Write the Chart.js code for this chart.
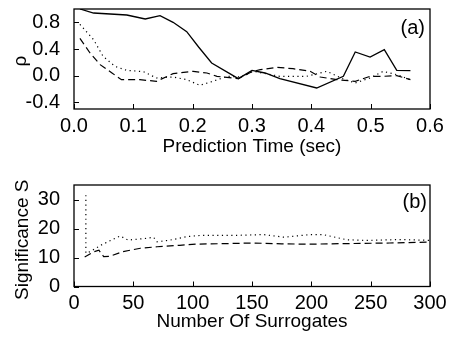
<!DOCTYPE html>
<html>
<head>
<meta charset="utf-8">
<script src="https://cdn.jsdelivr.net/npm/chart.js@4/dist/chart.umd.min.js"></script>
<style>
html,body{margin:0;padding:0;background:#fff;}
#wrapA{position:absolute;left:0;top:0;width:449px;height:165px;}
#wrapB{position:absolute;left:0;top:170px;width:449px;height:167px;}
</style>
</head>
<body>
<div id="wrapA"><canvas id="chartA"></canvas></div>
<div id="wrapB"><canvas id="chartB"></canvas></div>
<script>
// ---- Panel (a): correlation rho vs prediction time ----
const timeSolid = [0.010, 0.033, 0.089, 0.120, 0.145, 0.167, 0.190, 0.210, 0.232, 0.277, 0.300, 0.322, 0.347, 0.409, 0.454, 0.474, 0.499, 0.523, 0.544, 0.567];
const rhoSolid  = [1.00, 0.94, 0.91, 0.85, 0.90, 0.80, 0.66, 0.43, 0.19, -0.045, 0.08, 0.04, -0.045, -0.185, -0.01, 0.355, 0.28, 0.39, 0.08, 0.075];

const timeDotted = [0.010, 0.033, 0.049, 0.069, 0.089, 0.117, 0.139, 0.167, 0.190, 0.212, 0.234, 0.258, 0.280, 0.302, 0.347, 0.392, 0.426, 0.454, 0.474, 0.499, 0.521, 0.544, 0.567];
const rhoDotted  = [0.77, 0.54, 0.29, 0.14, 0.08, 0.06, -0.035, -0.02, -0.06, -0.145, -0.085, -0.01, -0.02, 0.065, -0.01, -0.01, 0.065, -0.05, -0.11, -0.035, 0.065, 0.015, -0.06];

const timeDashed = [0.010, 0.027, 0.044, 0.064, 0.080, 0.111, 0.139, 0.167, 0.201, 0.224, 0.241, 0.277, 0.300, 0.314, 0.342, 0.369, 0.398, 0.415, 0.443, 0.474, 0.499, 0.521, 0.544, 0.567];
const rhoDashed  = [0.56, 0.34, 0.165, 0.04, -0.06, -0.06, -0.085, 0.03, 0.065, 0.04, -0.01, -0.045, 0.06, 0.09, 0.125, 0.105, 0.065, -0.02, -0.06, -0.085, -0.01, -0.01, 0.0, -0.06];

const rhoTicks  = [-0.4, 0.0, 0.4, 0.8];
const timeTicks = [0.0, 0.1, 0.2, 0.3, 0.4, 0.5, 0.6];

// ---- Panel (b): significance vs number of surrogates ----
const nDotted = [10, 10, 13.5, 23, 33, 39, 45.5, 61, 67, 70, 81, 95, 106, 134, 160, 177, 199, 210, 230, 247, 275, 300];
const sDotted = [31.5, 11.5, 12, 14.3, 16.3, 17.4, 16, 16.6, 17, 15.4, 16, 17.2, 17.6, 17.6, 17.9, 17, 17.9, 17.9, 16.1, 15.9, 16.2, 15.9];

const nDashed = [9, 17, 21, 25, 30, 41, 56, 70, 89, 103, 129, 151, 175, 200, 230, 266, 300];
const sDashed = [10.2, 12, 12.5, 10.3, 10.4, 12, 13.2, 13.7, 14.2, 14.6, 14.8, 15.0, 14.7, 14.6, 14.8, 15.0, 15.3];

const sTicks = [0, 10, 20, 30];
const nTicks = [0, 50, 100, 150, 200, 250, 300];

const FONT = "'Liberation Sans', Arial, sans-serif";

function pts(xs, ys){ return xs.map((x,i)=>({x:x, y:ys[i]})); }

const framePlugin = {
  id: 'frame',
  afterDraw(chart, args, opts){
    const ctx = chart.ctx, a = chart.chartArea;
    const xs = chart.scales.x, ys = chart.scales.y;
    ctx.save();
    ctx.strokeStyle = '#000';
    ctx.lineWidth = 1.3;
    ctx.strokeRect(a.left, a.top, a.right - a.left, a.bottom - a.top);
    ctx.lineWidth = 1;
    ctx.beginPath();
    xs.ticks.forEach(t => {
      const px = Math.round(xs.getPixelForValue(t.value)) + 0.5;
      ctx.moveTo(px, a.bottom); ctx.lineTo(px, a.bottom - 5);
    });
    ys.ticks.forEach(t => {
      const py = Math.round(ys.getPixelForValue(t.value)) + 0.5;
      ctx.moveTo(a.left, py); ctx.lineTo(a.left + 5, py);
    });
    ctx.stroke();
    ctx.fillStyle = '#000';
    ctx.font = '20px ' + FONT;
    ctx.textAlign = 'right';
    ctx.textBaseline = 'middle';
    ctx.fillText(opts.label, a.right - opts.dx, a.top + opts.dy);
    // rotated y-axis title
    ctx.font = '19px ' + FONT;
    ctx.textAlign = 'center';
    ctx.translate(opts.yTitleX, (a.top + a.bottom) / 2 + opts.yTitleDy);
    ctx.rotate(-Math.PI / 2);
    ctx.fillText(opts.yTitle, 0, 0);
    ctx.restore();
  }
};

function makeChart(id, cfg){
  return new Chart(document.getElementById(id), {
    type: 'line',
    data: { datasets: cfg.datasets },
    options: {
      responsive: true,
      maintainAspectRatio: false,
      animation: false,
      events: [],
      layout: { padding: { left: 0, right: 19, top: cfg.padTop, bottom: 0 } },
      plugins: {
        legend: { display: false },
        tooltip: { enabled: false },
        frame: { label: cfg.label, dx: cfg.labelDx, dy: cfg.labelDy,
                 yTitle: cfg.yTitle, yTitleX: cfg.yTitleX, yTitleDy: cfg.yTitleDy }
      },
      elements: { point: { radius: 0 }, line: { tension: 0 } },
      scales: {
        x: {
          type: 'linear',
          min: cfg.xMin, max: cfg.xMax,
          grid: { display: false },
          border: { display: false },
          afterBuildTicks: s => { s.ticks = cfg.xTicks.map(v => ({value: v})); },
          afterFit: s => { s.height = cfg.xHeight; s.paddingLeft = 0; s.paddingRight = 0; },
          ticks: {
            autoSkip: false, maxRotation: 0, padding: cfg.xPad,
            color: '#000', font: { family: FONT, size: 20 },
            callback: cfg.xFmt
          },
          title: {
            display: true, text: cfg.xTitle, color: '#000',
            font: { family: FONT, size: 19 },
            padding: { top: 0, bottom: cfg.xTitlePad }
          }
        },
        y: {
          type: 'linear',
          min: cfg.yMin, max: cfg.yMax,
          grid: { display: false },
          border: { display: false },
          afterBuildTicks: s => { s.ticks = cfg.yTicks.map(v => ({value: v})); },
          afterFit: s => { s.width = 74; s.paddingTop = 0; s.paddingBottom = 0; },
          ticks: {
            autoSkip: false, padding: 6,
            color: '#000', font: { family: FONT, size: 20 },
            callback: cfg.yFmt
          },
          title: { display: false }
        }
      }
    },
    plugins: [framePlugin]
  });
}

makeChart('chartA', {
  datasets: [
    { data: pts(timeSolid, rhoSolid), borderColor: '#000', borderWidth: 1.3 },
    { data: pts(timeDotted, rhoDotted), borderColor: '#000', borderWidth: 1.2, borderDash: [1.2, 3.5] },
    { data: pts(timeDashed, rhoDashed), borderColor: '#000', borderWidth: 1.2, borderDash: [7, 4] }
  ],
  padTop: 9, xHeight: 56, xPad: -3, xTitlePad: 7,
  xMin: 0, xMax: 0.6, yMin: -0.5, yMax: 1.0,
  xTicks: timeTicks, yTicks: rhoTicks,
  xFmt: v => Number(v).toFixed(1), yFmt: v => Number(v).toFixed(1),
  xTitle: 'Prediction Time (sec)', yTitle: 'ρ', yTitleX: 21, yTitleDy: 2,
  label: '(a)', labelDx: 5, labelDy: 19
});

makeChart('chartB', {
  datasets: [
    { data: pts(nDotted, sDotted), borderColor: '#000', borderWidth: 1.2, borderDash: [1.2, 3.5] },
    { data: pts(nDashed, sDashed), borderColor: '#000', borderWidth: 1.2, borderDash: [7, 4] }
  ],
  padTop: 15, xHeight: 50.5, xPad: -3, xTitlePad: 4,
  xMin: 0, xMax: 300, yMin: 0, yMax: 35,
  xTicks: nTicks, yTicks: sTicks,
  xFmt: v => String(v), yFmt: v => String(v),
  xTitle: 'Number Of Surrogates', yTitle: 'Significance S', yTitleX: 22.5, yTitleDy: 4,
  label: '(b)', labelDx: 3, labelDy: 17
});
</script>
</body>
</html>
